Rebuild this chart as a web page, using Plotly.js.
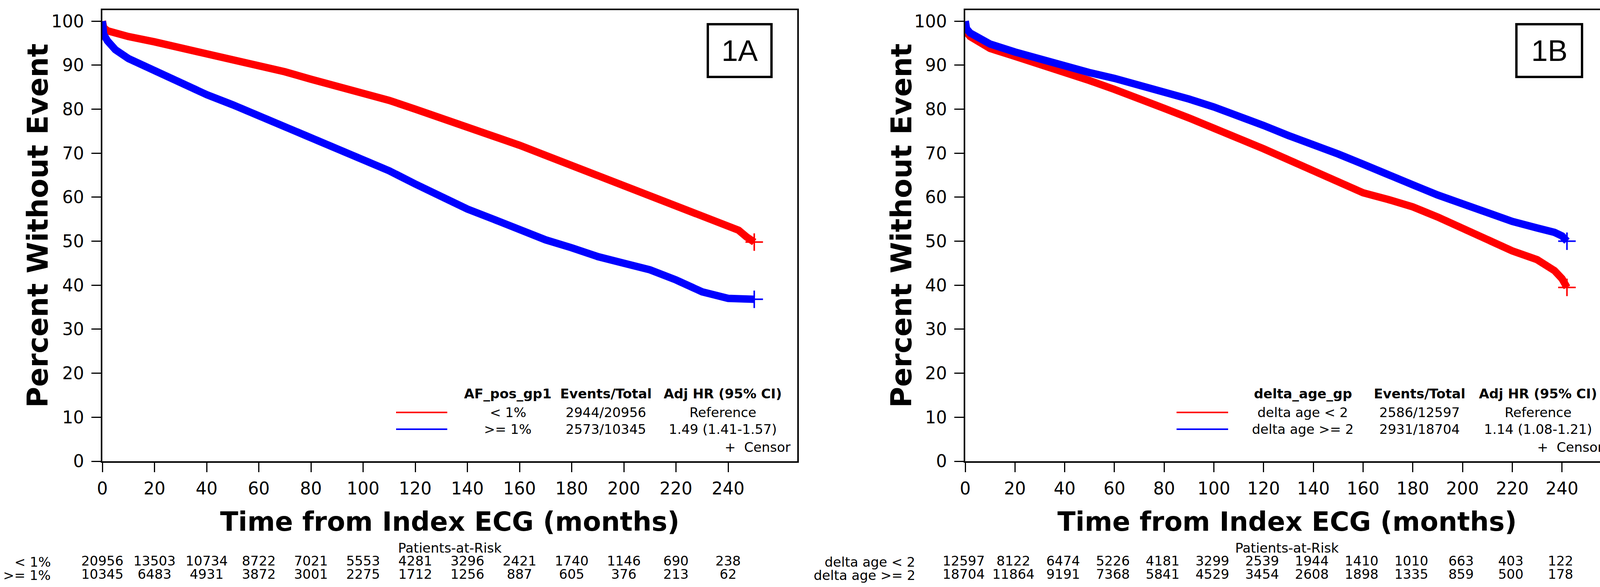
<!DOCTYPE html>
<html>
<head>
<meta charset="utf-8">
<script src="https://cdn.plot.ly/plotly-3.0.1.min.js"></script>
<style>html,body{margin:0;padding:0;background:#fff}#chart{width:4129px;height:1503px}</style>
</head>
<body>
<div id="chart"></div>
<script>
// ---------------- data ----------------
// Panel 1A: AF_pos_gp1
const timeA  = [0, 0.5, 2, 5, 10, 20, 30, 40, 50, 60, 70, 80, 90, 100, 110, 120, 130, 140, 150, 160, 170, 180, 190, 200, 210, 220, 230, 240, 244, 247, 250];
const afLow  = [100, 98.5, 97.8, 97.2, 96.5, 95.3, 94, 92.7, 91.3, 89.8, 88.5, 86.8, 85.3, 83.7, 82, 80, 78, 76, 74, 71.8, 69.5, 67.2, 64.8, 62.3, 60, 57.8, 55.5, 53.5, 52.5, 51, 49.8];
const afHigh = [100, 97, 95.5, 93.5, 91.5, 88.7, 86, 83.3, 81, 78.5, 76, 73.5, 71, 68.5, 66, 63, 60, 57.3, 55, 52.5, 50.3, 48.5, 46.5, 45, 43.5, 41.2, 38.5, 37, 36.8, 36.8, 36.8];
// Panel 1B: delta_age_gp
const timeB   = [0, 0.5, 2, 5, 10, 20, 30, 40, 50, 60, 70, 80, 90, 100, 110, 120, 130, 140, 150, 160, 170, 180, 190, 200, 210, 220, 230, 234, 237, 240, 242];
const ageLow  = [100, 97.5, 96.5, 95.3, 93.8, 92, 90.3, 88.5, 86.5, 84.5, 82.5, 80.2, 78, 75.8, 73.5, 71, 68.5, 66, 63.5, 61, 59.5, 57.8, 55.5, 52.8, 50.5, 47.8, 45.8, 44.5, 43.3, 41.5, 39.5];
const ageHigh = [100, 98.3, 97.3, 96.2, 94.8, 93, 91.3, 89.7, 88.3, 87, 85.5, 84, 82.3, 80.5, 78.5, 76.3, 74, 72, 69.8, 67.5, 65, 62.8, 60.5, 58.5, 56.5, 54.5, 53, 52.5, 52, 51.2, 50];

const xTicks = [0, 20, 40, 60, 80, 100, 120, 140, 160, 180, 200, 220, 240];
const yTicks = [0, 10, 20, 30, 40, 50, 60, 70, 80, 90, 100];

const riskA_low  = [20956, 13503, 10734, 8722, 7021, 5553, 4281, 3296, 2421, 1740, 1146, 690, 238];
const riskA_high = [10345, 6483, 4931, 3872, 3001, 2275, 1712, 1256, 887, 605, 376, 213, 62];
const riskB_low  = [12597, 8122, 6474, 5226, 4181, 3299, 2539, 1944, 1410, 1010, 663, 403, 122];
const riskB_high = [18704, 11864, 9191, 7368, 5841, 4529, 3454, 2608, 1898, 1335, 859, 500, 178];

const groupsA = ['< 1%', '>= 1%'];
const groupsB = ['delta age < 2', 'delta age >= 2'];
const eventsA = ['2944/20956', '2573/10345'];
const eventsB = ['2586/12597', '2931/18704'];
const hrA = ['Reference', '1.49 (1.41-1.57)'];
const hrB = ['Reference', '1.14 (1.08-1.21)'];
const varA = 'AF_pos_gp1';
const varB = 'delta_age_gp';
const panelLabels = ['1A', '1B'];

// ---------------- layout helpers ----------------
const W = 4129, H = 1503;
const px = v => v / W;
const py = v => 1 - v / H;
const RED = '#ff0000', BLUE = '#0000ff';
const FONT = 'DejaVu Sans, Verdana, sans-serif';

const panels = [
  {xa: 'x', ya: 'y', rx: 'x3', ry: 'y3', xl: 262, xr: 2041, xmax: 266.5, riskX: [262, 1864], t: timeA,
   lo: afLow, hi: afHigh, riskLo: riskA_low, riskHi: riskA_high, groups: groupsA, events: eventsA, hr: hrA, varName: varA,
   rowLabelX: 132, lineX0: 1014, lineX1: 1145, c1: 1300, c2: 1551, c3: 1850, censorX: 2026, titleX: 97,
   box: [1812, 1975], label: panelLabels[0]},
  {xa: 'x2', ya: 'y2', rx: 'x4', ry: 'y4', xl: 2471, xr: 4119, xmax: 258.9, riskX: [2467, 3995], t: timeB,
   lo: ageLow, hi: ageHigh, riskLo: riskB_low, riskHi: riskB_high, groups: groupsB, events: eventsB, hr: hrB, varName: varB,
   rowLabelX: 2345, lineX0: 3012, lineX1: 3144, c1: 3335, c2: 3634, c3: 3937, censorX: 4106, titleX: 2308,
   box: [3882, 4050], label: panelLabels[1]}
];

const traces = [];
const annotations = [];
const shapes = [];
const layout = {
  width: W, height: H,
  margin: {l: 0, r: 0, t: 0, b: 0},
  paper_bgcolor: '#fff', plot_bgcolor: '#fff',
  showlegend: false,
  font: {family: FONT, color: '#000'},
  annotations, shapes
};

const plotTop = 26, plotBot = 1181;
const rowY = [1439, 1473];

panels.forEach((p, i) => {
  const n = i === 0 ? '' : '2';
  const rn = i === 0 ? '3' : '4';
  layout['xaxis' + n] = {
    domain: [px(p.xl), px(p.xr)], range: [0, p.xmax], anchor: p.ya,
    tickvals: xTicks, ticktext: xTicks.map(String),
    showline: true, mirror: true, linewidth: 4, linecolor: '#000',
    ticks: 'outside', ticklen: 24, tickwidth: 3, tickcolor: '#000',
    tickfont: {size: 44, family: FONT}, ticklabelstandoff: 4,
    showgrid: false, zeroline: false,
    title: {text: '<b>Time from Index ECG (months)</b>', font: {size: 68, family: FONT}, standoff: 38}
  };
  layout['yaxis' + n] = {
    domain: [py(plotBot), py(plotTop)], range: [0, 102.5], anchor: p.xa,
    tickvals: yTicks, ticktext: yTicks.map(String),
    showline: true, mirror: true, linewidth: 4, linecolor: '#000',
    ticks: 'outside', ticklen: 24, tickwidth: 3, tickcolor: '#000',
    tickfont: {size: 44, family: FONT}, ticklabelstandoff: 10,
    showgrid: false, zeroline: false
  };
  // hidden axes for the patients-at-risk rows
  layout['xaxis' + rn] = {
    domain: [px(p.riskX[0]), px(p.riskX[1])], range: [0, 240], anchor: p.ry,
    visible: false, fixedrange: true
  };
  layout['yaxis' + rn] = {
    domain: [py(rowY[1]), py(rowY[0])], range: [1, 2], anchor: p.rx,
    visible: false, fixedrange: true
  };

  // y-axis title
  annotations.push({
    xref: 'paper', yref: 'paper', x: px(p.titleX), y: py(578), xanchor: 'center', yanchor: 'middle',
    textangle: -90, text: '<b>Percent Without Event</b>', showarrow: false, font: {size: 73, family: FONT}
  });

  // survival curves
  [[p.lo, RED], [p.hi, BLUE]].forEach(([vals, col]) => {
    traces.push({
      x: p.t, y: vals, xaxis: p.xa, yaxis: p.ya, type: 'scatter', mode: 'lines',
      line: {color: col, width: 19, shape: 'linear'}, hoverinfo: 'skip'
    });
    // final censor mark
    traces.push({
      x: [p.t[p.t.length - 1]], y: [vals[vals.length - 1]], xaxis: p.xa, yaxis: p.ya,
      type: 'scatter', mode: 'markers', cliponaxis: false,
      marker: {symbol: 'cross-thin', size: 32, line: {color: col, width: 4}}, hoverinfo: 'skip'
    });
  });

  // patients-at-risk numbers
  [[p.riskLo, 2], [p.riskHi, 1]].forEach(([vals, row]) => {
    traces.push({
      x: xTicks, y: xTicks.map(() => row), xaxis: p.rx, yaxis: p.ry, type: 'scatter', mode: 'text',
      text: vals.map(String), textposition: 'middle center', cliponaxis: false,
      textfont: {size: 34, family: FONT, color: '#000'}, hoverinfo: 'skip'
    });
  });

  annotations.push({
    xref: 'paper', yref: 'paper', x: px((p.xl + p.xr) / 2), y: py(1403), xanchor: 'center', yanchor: 'middle',
    text: 'Patients-at-Risk', showarrow: false, font: {size: 34, family: FONT}
  });
  p.groups.forEach((g, k) => {
    annotations.push({
      xref: 'paper', yref: 'paper', x: px(p.rowLabelX), y: py(rowY[k]), xanchor: 'right', yanchor: 'middle',
      text: g, showarrow: false, font: {size: 34, family: FONT}
    });
  });

  // legend table
  const hdrY = 1008, rY = [1056, 1099];
  [[p.varName, p.c1], ['Events/Total', p.c2], ['Adj HR (95% CI)', p.c3]].forEach(([t, cx]) => {
    annotations.push({
      xref: 'paper', yref: 'paper', x: px(cx), y: py(hdrY), xanchor: 'center', yanchor: 'middle',
      text: '<b>' + t + '</b>', showarrow: false, font: {size: 34, family: FONT}
    });
  });
  [RED, BLUE].forEach((col, k) => {
    shapes.push({type: 'line', xref: 'paper', yref: 'paper', x0: px(p.lineX0), x1: px(p.lineX1),
      y0: py(rY[k]), y1: py(rY[k]), line: {color: col, width: 4}});
    [[p.groups[k], p.c1], [p.events[k], p.c2], [p.hr[k], p.c3]].forEach(([t, cx]) => {
      annotations.push({
        xref: 'paper', yref: 'paper', x: px(cx), y: py(rY[k]), xanchor: 'center', yanchor: 'middle',
        text: t, showarrow: false, font: {size: 34, family: FONT}
      });
    });
  });
  annotations.push({
    xref: 'paper', yref: 'paper', x: px(p.censorX), y: py(1145), xanchor: 'right', yanchor: 'middle',
    text: '+  Censor', showarrow: false, font: {size: 34, family: FONT}
  });

  // panel label box
  shapes.push({type: 'rect', xref: 'paper', yref: 'paper', x0: px(p.box[0]), x1: px(p.box[1]),
    y0: py(197), y1: py(62), line: {color: '#000', width: 6}, fillcolor: 'rgba(0,0,0,0)'});
  annotations.push({
    xref: 'paper', yref: 'paper', x: px((p.box[0] + p.box[1]) / 2), y: py(130), xanchor: 'center', yanchor: 'middle',
    text: p.label, showarrow: false, font: {size: 76, family: 'Liberation Sans, Arial, sans-serif'}
  });
});

Plotly.newPlot('chart', traces, layout, {staticPlot: true, displayModeBar: false});
</script>
</body>
</html>
